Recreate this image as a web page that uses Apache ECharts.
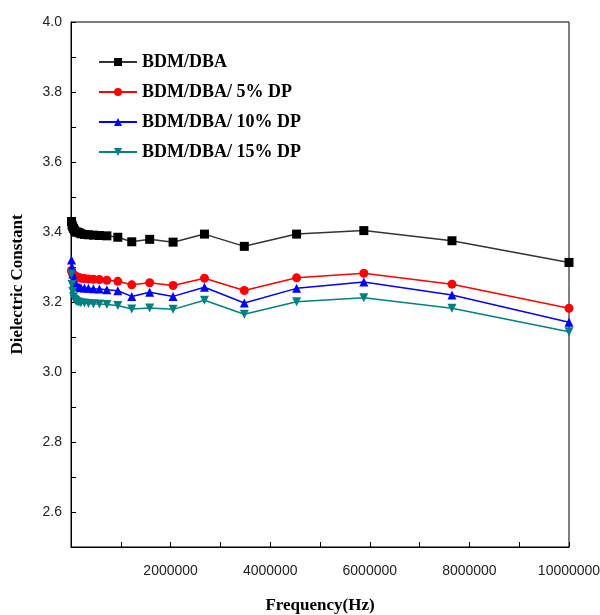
<!DOCTYPE html>
<html>
<head>
<meta charset="utf-8">
<script src="https://cdn.jsdelivr.net/npm/echarts@6/dist/echarts.min.js"></script>
<style>
  html, body { margin: 0; padding: 0; background: #fff; }
  #chart { width: 600px; height: 615px; }
</style>
</head>
<body>
<div id="chart"></div>
<script>
// frequency points (Hz)
var freq = [1e4, 2e4, 3.5e4, 5e4, 7e4, 9e4, 1.2e5, 1.6e5, 2.0e5, 2.7e5, 3.5e5, 4.5e5,
  5.7e5, 7.2e5, 9.4e5, 1.22e6, 1.58e6, 2.05e6, 2.68e6, 3.48e6, 4.53e6, 5.88e6, 7.65e6, 1e7];

var names = ["BDM/DBA", "BDM/DBA/ 5% DP", "BDM/DBA/ 10% DP", "BDM/DBA/ 15% DP"];

var neat = [3.43, 3.42, 3.415, 3.41, 3.405, 3.40, 3.40, 3.398, 3.395, 3.393, 3.392, 3.391,
  3.39, 3.389, 3.385, 3.372, 3.379, 3.371, 3.394, 3.359, 3.394, 3.404, 3.375, 3.313];
var dp5 = [3.29, 3.285, 3.28, 3.277, 3.275, 3.273, 3.272, 3.27, 3.268, 3.267, 3.266, 3.265,
  3.264, 3.262, 3.259, 3.249, 3.255, 3.247, 3.268, 3.233, 3.269, 3.282, 3.251, 3.182];
var dp10 = [3.32, 3.30, 3.28, 3.265, 3.255, 3.25, 3.246, 3.243, 3.241, 3.24, 3.239, 3.238,
  3.237, 3.235, 3.232, 3.216, 3.228, 3.216, 3.242, 3.197, 3.239, 3.257, 3.22, 3.142];
var dp15 = [3.28, 3.25, 3.23, 3.215, 3.208, 3.204, 3.201, 3.199, 3.198, 3.197, 3.196, 3.195,
  3.194, 3.193, 3.19, 3.18, 3.183, 3.179, 3.205, 3.165, 3.201, 3.212, 3.182, 3.115];

var colors = ["#000000", "#ff0000", "#0000ff", "#008080"];
var lineColors = ["#333333", "#ff0000", "#0000ff", "#008080"];
var symbols = ["rect", "circle", "triangle", "triangle"];
var rotations = [0, 0, 0, 180];
var values = [neat, dp5, dp10, dp15];

function pairs(ys) {
  return freq.map(function (f, i) { return [f, ys[i]]; });
}

var series = values.map(function (ys, k) {
  return {
    name: names[k],
    type: "line",
    data: pairs(ys),
    symbol: symbols[k],
    symbolRotate: rotations[k],
    symbolSize: 9,
    showAllSymbol: true,
    color: colors[k],
    lineStyle: { width: 1.5, color: lineColors[k] },
    itemStyle: { color: colors[k] }
  };
});

var chart = echarts.init(document.getElementById("chart"));
chart.setOption({
  animation: false,
  backgroundColor: "#fff",
  grid: {
    left: 71, right: 31, top: 22, bottom: 68,
    outerBoundsMode: "none",
    show: true, borderColor: "#000", borderWidth: 1
  },
  legend: {
    orient: "vertical",
    left: 93, top: 48,
    itemWidth: 38, itemHeight: 10, itemGap: 12,
    data: names,
    textStyle: { fontFamily: "Liberation Serif", fontWeight: "bold", fontSize: 18, color: "#000" }
  },
  xAxis: {
    type: "value",
    min: 0, max: 1e7, interval: 1e6,
    name: "Frequency(Hz)",
    nameLocation: "middle",
    nameGap: 50,
    nameTextStyle: { fontFamily: "Liberation Serif", fontWeight: "bold", fontSize: 17, color: "#000" },
    axisLine: { lineStyle: { color: "#000", width: 1 } },
    axisTick: { inside: true, length: 5, lineStyle: { color: "#000" } },
    splitLine: { show: false },
    axisLabel: {
      margin: 17,
      fontFamily: "Liberation Sans", fontSize: 14, color: "#222",
      formatter: function (v) { return (v > 0 && v % 2e6 === 0) ? String(v) : ""; }
    }
  },
  yAxis: {
    type: "value",
    min: 2.5, max: 4.0, interval: 0.1,
    name: "Dielectric Constant",
    nameLocation: "middle",
    nameGap: 45,
    nameTextStyle: { fontFamily: "Liberation Serif", fontWeight: "bold", fontSize: 17, color: "#000" },
    axisLine: { show: true, lineStyle: { color: "#000", width: 1 } },
    axisTick: { show: true, inside: true, length: 5, lineStyle: { color: "#000" } },
    splitLine: { show: false },
    axisLabel: {
      margin: 9,
      fontFamily: "Liberation Sans", fontSize: 14, color: "#222",
      formatter: function (v) {
        var t = Math.round(v * 10);
        return (t % 2 === 0) ? v.toFixed(1) : "";
      }
    }
  },
  series: series
});
</script>
</body>
</html>
